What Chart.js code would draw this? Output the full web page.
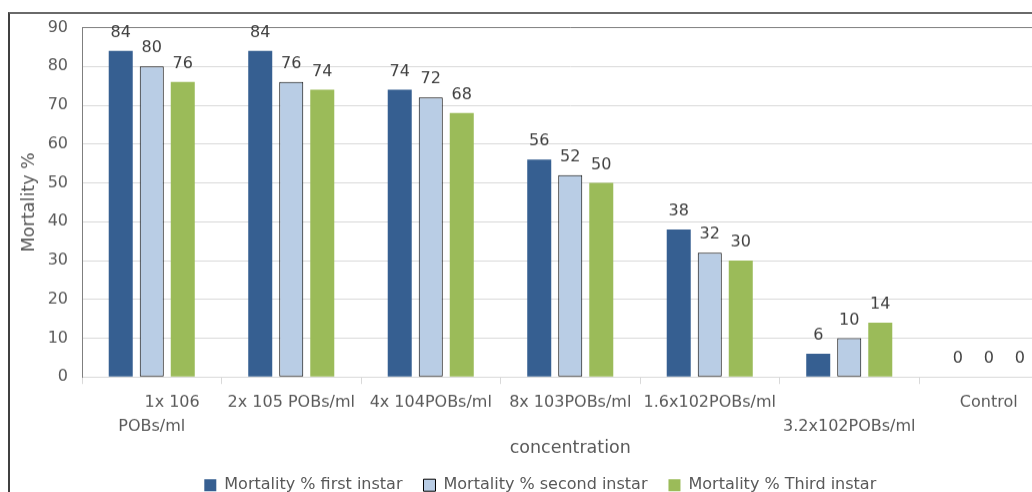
<!DOCTYPE html>
<html>
<head>
<meta charset="utf-8">
<script src="https://cdn.jsdelivr.net/npm/chart.js@4/dist/chart.umd.min.js"></script>
<style>
  html, body { margin: 0; padding: 0; background: #fff; overflow: hidden; width: 1032px; height: 492px; }
  #frame { position: absolute; left: 8px; top: 12px; width: 1100px; height: 520px; border-left: 2px solid #404040; border-top: 2px solid #6a6a6a; }
  #wrap { position: absolute; left: 10px; top: 4.4px; width: 1076px; height: 498.2px; }
</style>
</head>
<body>
<div id="frame"></div>
<div id="wrap"><canvas id="chart"></canvas></div>
<script>
// Concentrations tested (first label wraps onto two lines, the sixth sits on the second row)
const categories = [
  ['\u00A0\u00A0\u00A0\u00A0\u00A0\u00A0\u00A0\u00A01x 106', 'POBs/ml'],
  '2x 105 POBs/ml',
  '4x 104POBs/ml',
  '8x 103POBs/ml',
  '1.6x102POBs/ml',
  ['', '3.2x102POBs/ml'],
  'Control'
];
const seriesNames = ['Mortality % first instar', 'Mortality % second instar', 'Mortality % Third instar'];
const firstInstar = [84, 84, 74, 56, 38, 6, 0];
const secondInstar = [80, 76, 72, 52, 32, 10, 0];
const thirdInstar = [76, 74, 68, 50, 30, 14, 0];
const yTicks = [0, 10, 20, 30, 40, 50, 60, 70, 80, 90];

const FONT = 'DejaVu Sans';

// Value labels written above every bar
const barValueLabels = {
  id: 'barValueLabels',
  afterDatasetsDraw(chart) {
    const ctx = chart.ctx;
    ctx.save();
    ctx.font = '16px "' + FONT + '"';
    ctx.fillStyle = '#404040';
    ctx.textAlign = 'center';
    ctx.textBaseline = 'middle';
    chart.data.datasets.forEach((ds, i) => {
      const meta = chart.getDatasetMeta(i);
      meta.data.forEach((bar, j) => {
        ctx.fillText(String(ds.data[j]), bar.x, bar.y - 18);
      });
    });
    ctx.restore();
  }
};

// Nudge the legend row a little to the right of the plot's centre line
const legendShift = {
  id: 'legendShift',
  afterLayout(chart) {
    if (chart.legend) {
      chart.legend.left += 6;
      chart.legend.right += 6;
    }
  }
};

new Chart(document.getElementById('chart'), {
  type: 'bar',
  data: {
    labels: categories,
    datasets: [
      { label: seriesNames[0], data: firstInstar, backgroundColor: '#365F91', borderWidth: 0 },
      { label: seriesNames[1], data: secondInstar, backgroundColor: '#B9CDE5', borderColor: '#000000', borderWidth: 1, borderSkipped: false },
      { label: seriesNames[2], data: thirdInstar, backgroundColor: '#9BBB59', borderWidth: 0 }
    ]
  },
  options: {
    responsive: true,
    maintainAspectRatio: false,
    animation: false,
    barPercentage: 0.774,
    categoryPercentage: 0.667,
    layout: { padding: { top: 0, right: 27.5, left: 0, bottom: 0 } },
    plugins: {
      legend: {
        position: 'bottom',
        labels: {
          font: { family: FONT, size: 16 },
          color: '#595959',
          boxWidth: 12,
          boxHeight: 12,
          padding: 21
        }
      },
      tooltip: { enabled: false }
    },
    scales: {
      x: {
        offset: true,
        grid: { display: true, drawOnChartArea: false, offset: true, tickLength: 7, color: '#D9D9D9' },
        border: { color: '#D9D9D9' },
        ticks: {
          autoSkip: false, maxRotation: 0, minRotation: 0,
          padding: 7,
          color: '#595959',
          font: { family: FONT, size: 16, lineHeight: 1.5 }
        },
        title: {
          display: true, text: 'concentration', color: '#595959',
          font: { family: FONT, size: 17.5 },
          padding: { top: 0, bottom: -3 }
        },
        afterFit(scale) { scale.height = 79; }
      },
      y: {
        min: 0, max: 90,
        afterBuildTicks(scale) { scale.ticks = yTicks.map(v => ({ value: v })); },
        grid: {
          drawTicks: false,
          color: ctx => (ctx.tick && ctx.tick.value === 90) ? '#7F7F7F' : '#D9D9D9'
        },
        border: { color: '#7F7F7F' },
        ticks: {
          padding: 14,
          color: '#595959',
          font: { family: FONT, size: 16 }
        },
        title: {
          display: true, text: 'Mortality %', color: '#595959',
          font: { family: FONT, size: 17.5 },
          padding: { top: 9, bottom: 0 }
        },
        afterFit(scale) { scale.width = 72; }
      }
    }
  },
  plugins: [barValueLabels, legendShift]
});
</script>
</body>
</html>
